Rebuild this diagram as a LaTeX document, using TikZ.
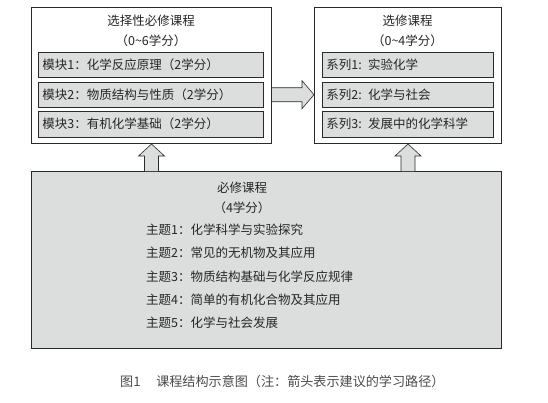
\documentclass[tikz,border=0pt]{standalone}
\usepackage{fontspec}
\setmainfont{Noto Sans CJK SC}
\usetikzlibrary{calc}
\definecolor{boxfill}{HTML}{DCDDDD}
\definecolor{ink}{HTML}{2A2A2A}
\definecolor{txt}{HTML}{262626}
\definecolor{captext}{HTML}{4A4A4A}
\begin{document}
\begin{tikzpicture}[x=1pt,y=-1pt,
  every node/.style={text=txt,font=\fontsize{12.5}{15}\selectfont},
  outerbox/.style={draw=ink,line width=1pt,fill=white,inner sep=0pt,anchor=north west},
  mainbox/.style={draw=ink,line width=1pt,fill=boxfill,inner sep=0pt,anchor=north west},
  rowbox/.style={draw=ink,line width=0.9pt,fill=boxfill,inner xsep=4pt,inner ysep=0pt,
    anchor=north west,align=left,minimum height=25.5pt},
  titletext/.style={inner sep=0pt},
  topictext/.style={inner sep=0pt,anchor=west},
  blockarrow/.style={draw=ink,line width=0.6pt,fill=boxfill,line join=miter}
]
\useasboundingbox (0,0) rectangle (548,402);

% outer boxes
\node[outerbox,minimum width=240pt,minimum height=136pt] (L) at (31,7) {};
\node[outerbox,minimum width=187pt,minimum height=136pt] (R) at (314,7) {};
\node[mainbox,minimum width=470pt,minimum height=177pt] (B) at (31,171) {};

% titles
\node[titletext] (Lt1) at (151,21) {选择性必修课程};
\node[titletext] (Lt2) at (151,41) {（0\textasciitilde6学分）};
\node[titletext] (Rt1) at (407.5,21) {选修课程};
\node[titletext] (Rt2) at (407.5,41) {（0\textasciitilde4学分）};

% rows left
\node[rowbox,text width=217pt] (L1) at (38,51.5) {模块1：化学反应原理（2学分）};
\node[rowbox,text width=217pt] (L2) at (38,81.5) {模块2：物质结构与性质（2学分）};
\node[rowbox,text width=217pt] (L3) at (38,111) {模块3：有机化学基础（2学分）};
% rows right
\node[rowbox,text width=163pt] (R1) at (322,51.5) {系列1: 实验化学};
\node[rowbox,text width=163pt] (R2) at (322,81.5) {系列2: 化学与社会};
\node[rowbox,text width=163pt] (R3) at (322,111) {系列3: 发展中的化学科学};

% bottom box texts
\node[titletext] (Bt1) at (242,188) {必修课程};
\node[titletext] (Bt2) at (242,207.5) {（4学分）};
\node[topictext] (T1) at (146,230) {主题1：化学科学与实验探究};
\node[topictext] (T2) at (146,253) {主题2：常见的无机物及其应用};
\node[topictext] (T3) at (146,276.5) {主题3：物质结构基础与化学反应规律};
\node[topictext] (T4) at (146,300) {主题4：简单的有机化合物及其应用};
\node[topictext] (T5) at (146,323) {主题5：化学与社会发展};

% caption
\node[topictext,text=captext,font=\fontsize{13.1}{15}\selectfont] (cap) at (120,382) {图1\hspace{1.2em}课程结构示意图（注：箭头表示建议的学习路径）};

% horizontal block arrow L -> R
\coordinate (ha) at (L.east |- L2.center);
\coordinate (hb) at (R.west |- L2.center);
\draw[blockarrow] ($(ha)+(0,-7)$) -- ($(hb)+(-12,-7)$) -- ($(hb)+(-12,-14)$) -- (hb)
  -- ($(hb)+(-12,14)$) -- ($(hb)+(-12,7)$) -- ($(ha)+(0,7)$);

% up block arrows B -> L, B -> R
\coordinate (ua) at (B.north -| L.south);
\coordinate (ub) at (L.south);
\draw[blockarrow] ($(ua)+(-7,0)$) -- ($(ub)+(-7,12)$) -- ($(ub)+(-13,12)$) -- (ub)
  -- ($(ub)+(13,12)$) -- ($(ub)+(7,12)$) -- ($(ua)+(7,0)$);
\coordinate (va) at (B.north -| R.south);
\coordinate (vb) at (R.south);
\draw[blockarrow] ($(va)+(-7,0)$) -- ($(vb)+(-7,12)$) -- ($(vb)+(-13,12)$) -- (vb)
  -- ($(vb)+(13,12)$) -- ($(vb)+(7,12)$) -- ($(va)+(7,0)$);
\end{tikzpicture}
\end{document}
